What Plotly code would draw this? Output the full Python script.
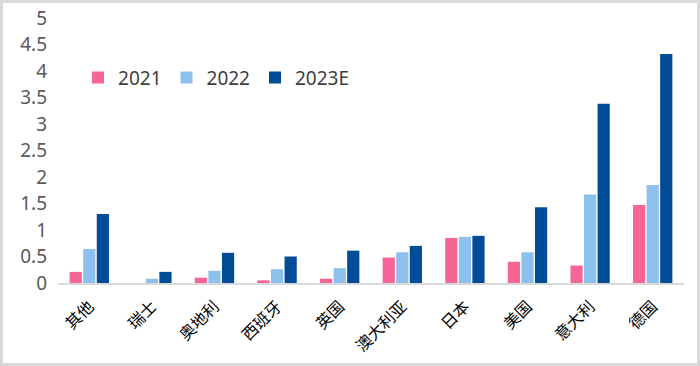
import plotly.graph_objects as go

categories = ["其他", "瑞士", "奥地利", "西班牙", "英国", "澳大利亚", "日本", "美国", "意大利", "德国"]
v2021 = [0.21, 0.0, 0.10, 0.05, 0.08, 0.48, 0.85, 0.40, 0.33, 1.47]
v2022 = [0.64, 0.08, 0.23, 0.26, 0.28, 0.58, 0.87, 0.58, 1.67, 1.85]
v2023 = [1.30, 0.21, 0.57, 0.50, 0.61, 0.70, 0.89, 1.43, 3.38, 4.32]
series_names = ["2021", "2022", "2023E"]
colors = ["#F76496", "#8DC0EC", "#004C97"]

fig = go.Figure()
for name, vals, c in zip(series_names, [v2021, v2022, v2023], colors):
    fig.add_trace(go.Bar(x=categories, y=vals, name=name, marker_color=c,
                         marker_line_width=0))

L, R, T, B = 58, 16, 18, 83
PW, PH = 700 - L - R, 366 - T - B
font_family = "Noto Sans CJK SC, Noto Sans, sans-serif"
fig.update_layout(
    width=700, height=366,
    margin=dict(l=L, r=R, t=T, b=B, autoexpand=False),
    paper_bgcolor="white", plot_bgcolor="white",
    barmode="group", bargap=0.35, bargroupgap=0.1,
    font=dict(family=font_family, color="#404040"),
    legend=dict(orientation="h", x=0.032, y=0.775, xanchor="left", yanchor="middle",
                font=dict(size=19, color="#404040", family="Noto Sans, sans-serif"),
                bgcolor="rgba(0,0,0,0)", itemwidth=30, tracegroupgap=0),
    yaxis=dict(range=[0, 5], dtick=0.5, showgrid=False, zeroline=False,
               tickfont=dict(size=19, color="#595959", family="Noto Sans, sans-serif"),
               ticks="", showline=False, ticklabelstandoff=10),
    xaxis=dict(showline=True, linecolor="#D9D9D9", linewidth=1.5, ticks="",
               tickangle=-45, ticklabelstandoff=6,
               tickfont=dict(size=16, color="#000000")),
)
fig.add_shape(type="rect", xref="paper", yref="paper",
              x0=-(L - 1.5) / PW, x1=1 + (R - 1.5) / PW,
              y0=-(B - 1.5) / PH, y1=1 + (T - 1.5) / PH,
              line=dict(color="#D9D9D9", width=3))

fig.write_html("out.html", config={"displayModeBar": False},
               post_script="document.body.style.margin='0';")
